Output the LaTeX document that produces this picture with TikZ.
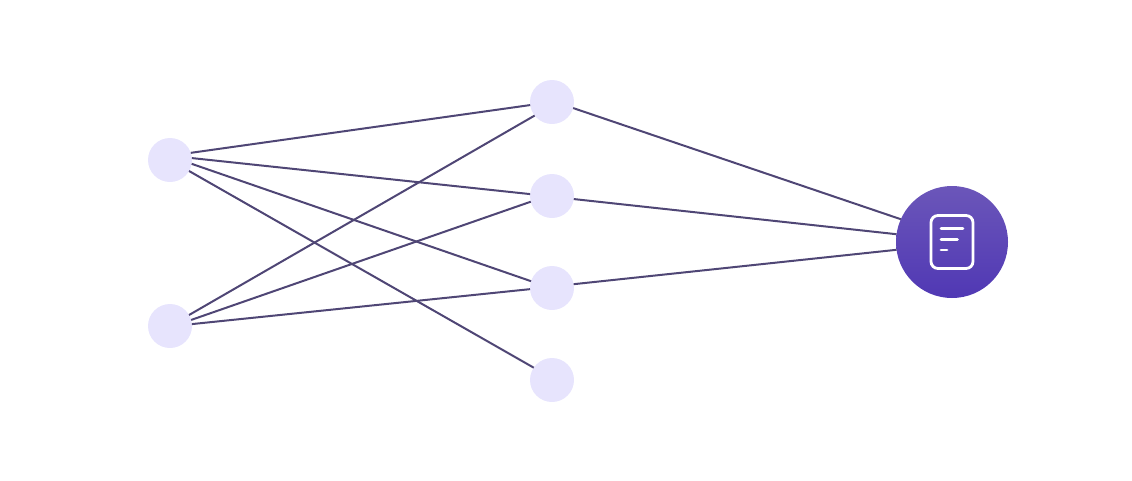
\documentclass[tikz,border=0pt]{standalone}
\definecolor{nodefill}{HTML}{E7E4FD}
\definecolor{linkc}{HTML}{4F4675}
\definecolor{gtop}{HTML}{6B56B9}
\definecolor{gbot}{HTML}{5038B4}
\tikzset{
  small/.style={circle,fill=nodefill,minimum size=44pt,inner sep=0pt,outer sep=0pt,draw=none},
  big/.style={circle,top color=gtop,bottom color=gbot,minimum size=112pt,inner sep=0pt,outer sep=0pt,draw=none},
  link/.style={draw=linkc,line width=2pt},
  icon/.style={draw=white,line width=2.8pt,line cap=round}
}
\begin{document}
\begin{tikzpicture}[x=1pt,y=-1pt]
\useasboundingbox (0,0) rectangle (1132,480);
\node[small] (a1) at (170,160) {};
\node[small] (a2) at (170,326) {};
\node[small] (m1) at (552,102) {};
\node[small] (m2) at (552,196) {};
\node[small] (m3) at (552,288) {};
\node[small] (m4) at (552,380) {};
\node[big] (out) at (952,242) {};
\draw[link] (a1.19) -- (m1.188);
\draw[link] (a1.5) -- (m2.175);
\draw[link] (a1.-10) -- (m3.162);
\draw[link] (a1.-30) -- (m4.146);
\draw[link] (a2.30) -- (m1.218);
\draw[link] (a2.16) -- (m2.195);
\draw[link] (a2.5) -- (m3.183);
\draw[link] (m1.-16) -- (out.156);
\draw[link] (m2.-8) -- (out.172);
\draw[link] (m3.10) -- (out.188);
\draw[icon,rounded corners=7pt] (931,215.5) rectangle (973,268.5);
\draw[icon] (941,228.5) -- (963,228.5);
\draw[icon] (941,239.3) -- (957.5,239.3);
\draw[icon] (941,250) -- (947,250);
\end{tikzpicture}
\end{document}
